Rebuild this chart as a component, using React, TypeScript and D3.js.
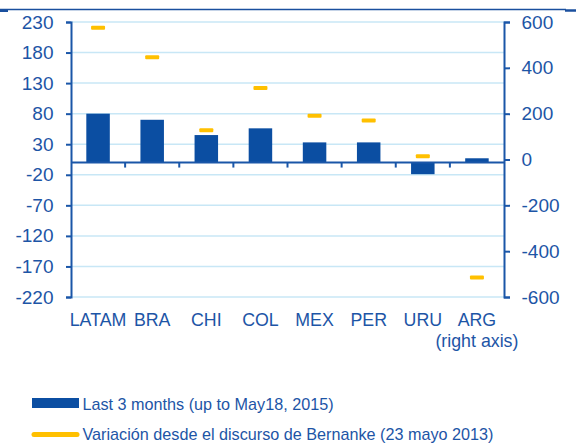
import React, { useEffect, useRef } from "react";
import { axisLeft, axisRight, scaleBand, scaleLinear, select } from "d3";

const categories = ["LATAM", "BRA", "CHI", "COL", "MEX", "PER", "URU", "ARG"];
const last3Months = [80, 70, 45, 56, 33, 33, -19, 7];
const sinceBernanke = [575, 446, 128, 312, 191, 170, 14, -515];
const leftTicks = [230, 180, 130, 80, 30, -20, -70, -120, -170, -220];
const rightTicks = [600, 400, 200, 0, -200, -400, -600];

const blue = "#0b4ea2";
const axisBlue = "#1a56a8";
const textBlue = "#1d55a6";
const yellow = "#ffc000";
const grid = "#c8e7f6";
const font = "'Liberation Sans', Arial, sans-serif";

const W = 576;
const H = 443;
const left = 71;
const right = 504;
const top = 22;
const bottom = 297;

function App() {
  const leftRef = useRef<SVGGElement>(null);
  const rightRef = useRef<SVGGElement>(null);

  const x = scaleBand().domain(categories).range([left, right]).padding(0);
  const yL = scaleLinear().domain([-220, 230]).range([bottom, top]);
  const yR = scaleLinear().domain([-600, 600]).range([bottom, top]);
  const barW = 23.5;
  const markW = 14;

  useEffect(() => {
    // plain hyphen for negatives, like the source chart
    const fmt = (d: any) => String(d);
    const styleAxis = (g: any) => {
      g.select(".domain").attr("stroke", axisBlue).attr("stroke-width", 2);
      g.selectAll(".tick line").attr("stroke", axisBlue).attr("stroke-width", 2);
      g.selectAll(".tick text")
        .attr("fill", textBlue)
        .style("font-family", font)
        .style("font-size", "19px");
    };
    if (leftRef.current) {
      const g = select(leftRef.current);
      g.call(
        axisLeft(yL).tickValues(leftTicks).tickFormat(fmt).tickSizeInner(5).tickSizeOuter(5).tickPadding(12.5)
      );
      styleAxis(g);
    }
    if (rightRef.current) {
      const g = select(rightRef.current);
      g.call(
        axisRight(yR).tickValues(rightTicks).tickFormat(fmt).tickSizeInner(6).tickSizeOuter(6).tickPadding(11.5)
      );
      styleAxis(g);
    }
  }, []);

  const zeroY = yL(0);

  return (
    <svg width={W} height={H} style={{ position: "absolute", left: 0, top: 0 }}>
      <rect width={W} height={H} fill="#fff" />
      {/* header rule */}
      <line x1={0} x2={566} y1={9.5} y2={9.5} stroke="#1a4f9e" strokeWidth={1.5} />
      <line x1={0} x2={8} y1={11} y2={11} stroke="#1a4f9e" strokeWidth={2} />
      <line x1={565} x2={576} y1={10.5} y2={10.5} stroke="#1a4f9e" strokeWidth={2.5} />

      {/* gridlines */}
      {leftTicks.map((t) => (
        <line key={`g-${t}`} x1={left} x2={right} y1={yL(t)} y2={yL(t)} stroke={grid} strokeWidth={1.5} />
      ))}

      {/* bars */}
      {categories.map((c, i) => {
        const v = last3Months[i];
        const cx = x(c)! + x.bandwidth() / 2;
        return (
          <rect
            key={`b-${c}`}
            x={cx - barW / 2}
            y={Math.min(yL(v), zeroY)}
            width={barW}
            height={Math.abs(yL(v) - zeroY)}
            fill={blue}
          />
        );
      })}

      {/* category axis */}
      <line x1={left} x2={right} y1={zeroY} y2={zeroY} stroke={axisBlue} strokeWidth={2} />
      {categories.slice(1).map((c) => (
        <line key={`t-${c}`} x1={x(c)!} x2={x(c)!} y1={zeroY} y2={zeroY + 5} stroke={axisBlue} strokeWidth={2} />
      ))}

      {/* markers */}
      {categories.map((c, i) => {
        const cx = x(c)! + x.bandwidth() / 2;
        return (
          <rect
            key={`m-${c}`}
            x={cx - markW / 2}
            y={yR(sinceBernanke[i]) - 2}
            width={markW}
            height={4}
            rx={1}
            fill={yellow}
          />
        );
      })}

      <g ref={leftRef} transform={`translate(${left},0)`} />
      <g ref={rightRef} transform={`translate(${right},0)`} />

      {/* category labels */}
      {categories.map((c) => (
        <text
          key={`l-${c}`}
          x={x(c)! + x.bandwidth() / 2}
          y={326}
          textAnchor="middle"
          fill={textBlue}
          fontFamily={font}
          fontSize={17.8}
        >
          {c}
        </text>
      ))}
      <text
        x={x("ARG")! + x.bandwidth() / 2}
        y={346.5}
        textAnchor="middle"
        fill={textBlue}
        fontFamily={font}
        fontSize={17.8}
      >
        (right axis)
      </text>

      {/* legend */}
      <rect x={32} y={398} width={47} height={10} fill={blue} />
      <text x={82.5} y={410} fill={textBlue} fontFamily={font} fontSize={16.2}>
        Last 3 months (up to May18, 2015)
      </text>
      <line x1={34} x2={77} y1={434.5} y2={434.5} stroke={yellow} strokeWidth={5} strokeLinecap="round" />
      <text x={82.5} y={440} fill={textBlue} fontFamily={font} fontSize={16.2}>
        Variación desde el discurso de Bernanke (23 mayo 2013)
      </text>
    </svg>
  );
}

export default App;
